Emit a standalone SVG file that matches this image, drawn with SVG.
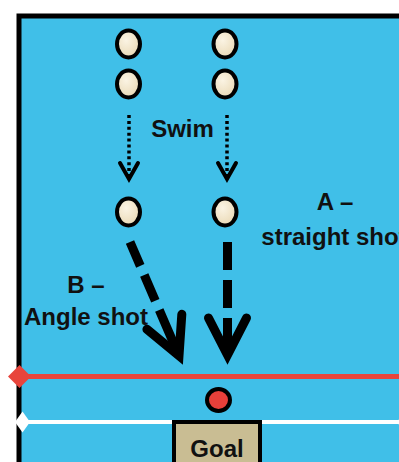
<svg xmlns="http://www.w3.org/2000/svg" width="399" height="462" viewBox="0 0 399 462">
  <style>
    .label { font-family: "Liberation Sans", Arial, sans-serif; font-weight: bold; font-size: 24px; fill: #111; }
    .player { fill: url(#cream); stroke: #000; stroke-width: 4; }
    .swim { fill: none; stroke: #000; stroke-width: 3.5; stroke-dasharray: 3 2.9; }
    .shot { fill: none; stroke: #000; stroke-width: 9; }
  </style>
  <defs>
    <radialGradient id="cream" cx="0.4" cy="0.35" r="0.7">
      <stop offset="0" stop-color="#fbf4e4"/>
      <stop offset="1" stop-color="#e9d8b4"/>
    </radialGradient>
    <marker id="headSmall" markerUnits="userSpaceOnUse" orient="auto" refX="0" refY="0" markerWidth="40" markerHeight="40" viewBox="-20 -20 40 40" overflow="visible">
      <path d="M-16,-9 L0,0 L-16,9" fill="none" stroke="#000" stroke-width="4" stroke-linecap="round" stroke-linejoin="miter"/>
    </marker>
    <marker id="headBig" markerUnits="userSpaceOnUse" orient="auto" refX="0" refY="0" markerWidth="100" markerHeight="100" viewBox="-50 -50 100 100" overflow="visible">
      <path d="M-37,-19 L0,0 L-37,19" fill="none" stroke="#000" stroke-width="9" stroke-linecap="round" stroke-linejoin="miter"/>
    </marker>
  </defs>

  <!-- pool -->
  <rect x="0" y="0" width="399" height="462" fill="#fff"/>
  <rect x="19" y="16" width="390" height="460" fill="#40bfe8"/>
  <path d="M19,462 V16 H399" fill="none" stroke="#000" stroke-width="5"/>

  <!-- 5 m line (red) and goal line (white) -->
  <g id="red-line">
    <line x1="19" y1="376.5" x2="399" y2="376.5" stroke="#e8453c" stroke-width="5"/>
    <polygon points="8,376.5 19.5,365 31,376.5 19.5,388" fill="#e8453c"/>
    <polygon points="397,376.5 408.5,365 420,376.5 408.5,388" fill="#e8453c"/>
  </g>
  <g id="goal-line">
    <line x1="19" y1="422" x2="399" y2="422" stroke="#fff" stroke-width="4"/>
    <polygon points="15,422 22.5,411.5 30,422 22.5,432.5" fill="#fff"/>
    <polygon points="397,422 404.5,411.5 412,422 404.5,432.5" fill="#fff"/>
  </g>

  <!-- connectors -->
  <g id="connectors">
    <line class="swim" x1="129" y1="115" x2="129" y2="179" marker-end="url(#headSmall)"/>
    <line class="swim" x1="227" y1="115" x2="227" y2="179" marker-end="url(#headSmall)"/>
    <line class="shot" x1="130" y1="242" x2="179" y2="355.8" stroke-dasharray="26 10 28 10 80" marker-end="url(#headBig)"/>
    <line class="shot" x1="227.5" y1="242" x2="227.5" y2="355" stroke-dasharray="28 10 28 10 80" marker-end="url(#headBig)"/>
  </g>

  <!-- players -->
  <g id="player-left-1"><ellipse class="player" cx="128.5" cy="44" rx="11.5" ry="13.5"/></g>
  <g id="player-left-2"><ellipse class="player" cx="128.5" cy="84" rx="11.5" ry="13.5"/></g>
  <g id="player-left-3"><ellipse class="player" cx="128.5" cy="212" rx="11.5" ry="13.5"/></g>
  <g id="player-right-1"><ellipse class="player" cx="225" cy="44" rx="11.5" ry="13.5"/></g>
  <g id="player-right-2"><ellipse class="player" cx="225" cy="84" rx="11.5" ry="13.5"/></g>
  <g id="player-right-3"><ellipse class="player" cx="225" cy="212" rx="11.5" ry="13.5"/></g>

  <!-- goalkeeper -->
  <g id="goalkeeper"><ellipse cx="218.5" cy="400" rx="11.5" ry="11" fill="#e8403a" stroke="#000" stroke-width="4"/></g>

  <!-- goal -->
  <g id="goal">
    <rect x="174" y="422" width="86" height="50" fill="#c9bd93" stroke="#000" stroke-width="4"/>
    <text class="label" x="217" y="457" text-anchor="middle">Goal</text>
  </g>

  <!-- labels -->
  <g id="label-swim"><text class="label" x="182.5" y="137" text-anchor="middle">Swim</text></g>
  <g id="label-a">
    <text class="label" x="335" y="210" text-anchor="middle">A –</text>
    <text class="label" x="334" y="245" text-anchor="middle">straight shot</text>
  </g>
  <g id="label-b">
    <text class="label" x="86" y="293" text-anchor="middle">B –</text>
    <text class="label" x="86" y="325" text-anchor="middle">Angle shot</text>
  </g>
</svg>
